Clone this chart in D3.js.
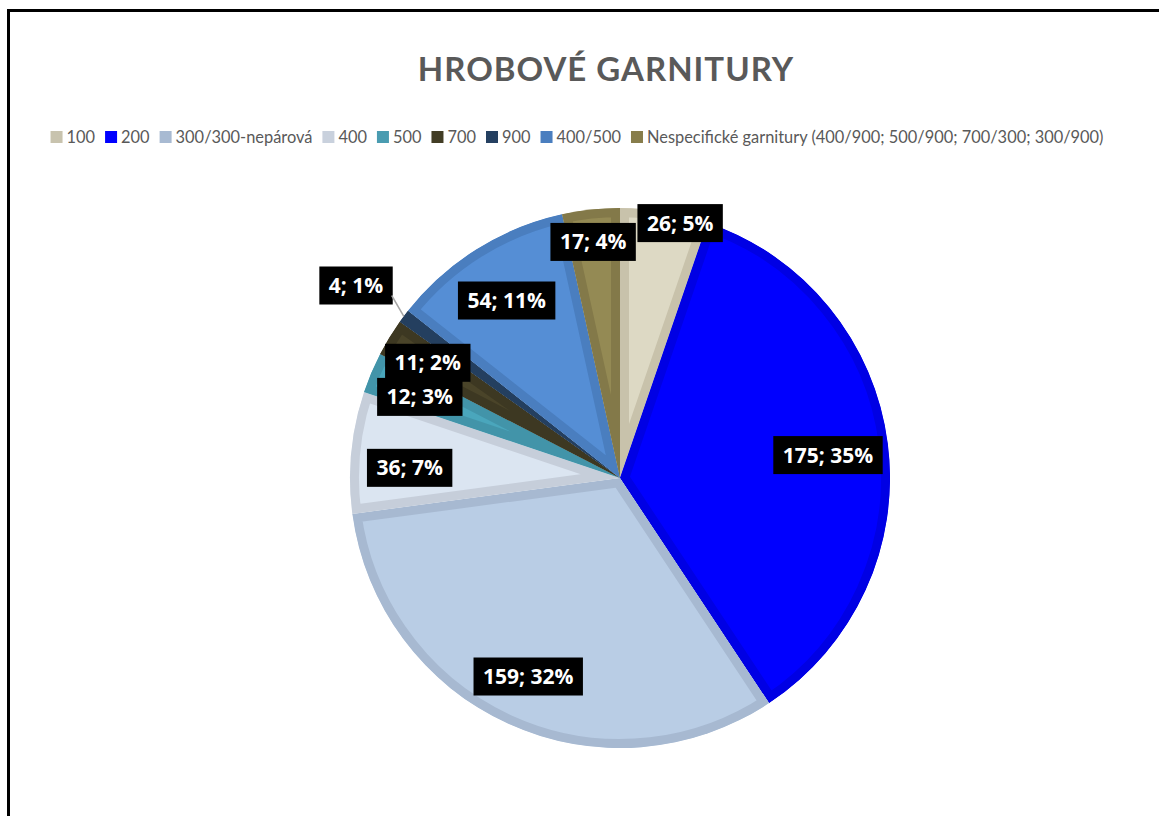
<!DOCTYPE html>
<html><head><meta charset="utf-8">
<script src="https://cdn.jsdelivr.net/npm/d3@7"></script>
<style>body{margin:0;background:#fff} svg{display:block}</style>
</head><body><svg id="c" width="1159" height="816"></svg>
<script>
// ---- data ----
const title = "HROBOVÉ GARNITURY";
const categories = ["100", "200", "300/300-nepárová", "400", "500", "700", "900", "400/500",
  "Nespecifické garnitury (400/900; 500/900; 700/300; 300/900)"];
const values = [26, 175, 159, 36, 12, 11, 4, 54, 17];

// ---- styles ----
const fillColors   = ["#DDD9C4", "#0000FF", "#B9CDE5", "#DBE5F1", "#4AA6BC", "#4A4429", "#2A4A6E", "#558ED5", "#948A54"];
const borderColors = ["#C8C2AB", "#0000E4", "#A7B9D1", "#C6CEDA", "#4294A9", "#3D3822", "#243F5F", "#4A7EBF", "#837949"];
const legendColors = ["#C8C3AE", "#0000FF", "#A8BAD2", "#C9D1DD", "#4A9CB1", "#423D25", "#254061", "#4A7EBF", "#877D4B"];
const labelRFactor = [0.97, 0.775, 0.81, 0.78, 0.80, 0.83, 1.21, 0.78, 0.88];
const labelAngOff  = [3.8, 1, 0.4, -2.7, -0.9, -0.4, -0.7, -0.5, -0.3];

const W = 1159, H = 816;
const svg = d3.select("#c");
const cx = 620, cy = 478, R = 270;
const FONT = "Lato, 'Open Sans', sans-serif";

// frame
svg.append("rect").attr("x", 8.5).attr("y", 10.5).attr("width", W + 20).attr("height", H + 20)
  .attr("fill", "none").attr("stroke", "#000").attr("stroke-width", 3);

// title
svg.append("text").attr("x", 606).attr("y", 81).attr("text-anchor", "middle")
  .attr("font-family", FONT).attr("font-weight", 700).attr("font-size", 33)
  .attr("letter-spacing", 1).attr("fill", "#595959").text(title);

// legend
const lg = svg.append("g").attr("font-family", FONT).attr("font-size", 16.4).attr("fill", "#595959");
const items = categories.map((c, i) => {
  const t = lg.append("text").attr("y", 143).text(c);
  return {t, w: t.node().getComputedTextLength(), i};
});
const sw = 12, gap1 = 4, gap2 = 10;
const total = d3.sum(items, d => sw + gap1 + d.w) + gap2 * (items.length - 1);
let x = 577 - total / 2;
items.forEach(d => {
  lg.append("rect").attr("x", x).attr("y", 131).attr("width", sw).attr("height", sw).attr("fill", legendColors[d.i]);
  d.t.attr("x", x + sw + gap1);
  x += sw + gap1 + d.w + gap2;
});

// percentages, largest remainder (as Excel displays)
const sum = d3.sum(values);
const raw = values.map(v => v / sum * 100);
const pct = raw.map(Math.floor);
let rem = 100 - d3.sum(pct);
raw.map((r, i) => ({i, f: r - Math.floor(r)})).sort((a, b) => b.f - a.f)
  .slice(0, rem).forEach(o => pct[o.i] += 1);

// pie
const pie = d3.pie().sort(null).value(d => d).startAngle(0).endAngle(2 * Math.PI);
const arcs = pie(values);
const arc = d3.arc().innerRadius(0).outerRadius(R);
const g = svg.append("g").attr("transform", `translate(${cx},${cy})`);
const defs = svg.append("defs");
arcs.forEach((a, i) => {
  defs.append("clipPath").attr("id", "cp" + i).append("path").attr("d", arc(a));
  g.append("path").attr("d", arc(a)).attr("fill", fillColors[i])
    .attr("stroke", borderColors[i]).attr("stroke-width", 18).attr("stroke-linejoin", "miter")
    .attr("clip-path", `url(#cp${i})`);
});

// labels
const lab = svg.append("g").attr("font-family", "'Open Sans', Lato, sans-serif").attr("font-weight", 700).attr("font-size", 21);
arcs.forEach((a, i) => {
  const mid = (a.startAngle + a.endAngle) / 2 + labelAngOff[i] * Math.PI / 180;
  const r = R * labelRFactor[i];
  const lx = cx + r * Math.sin(mid), ly = cy - r * Math.cos(mid);
  const t = lab.append("text").attr("x", lx).attr("y", ly + 7.5).attr("text-anchor", "middle")
    .attr("fill", "#fff").text(values[i] + "; " + pct[i] + "%");
  const tw = t.node().getComputedTextLength();
  const bw = tw + 19, bh = 38;
  lab.insert("rect", "text:last-child").attr("x", lx - bw / 2).attr("y", ly - bh / 2)
    .attr("width", bw).attr("height", bh).attr("fill", "#000");
  if (labelRFactor[i] > 1) {
    const m0 = (a.startAngle + a.endAngle) / 2;
    const ex = cx + R * Math.sin(m0), ey = cy - R * Math.cos(m0);
    svg.append("line").attr("x1", lx + bw / 2 - 1).attr("y1", ly + 10).attr("x2", ex).attr("y2", ey)
      .attr("stroke", "#A6A6A6").attr("stroke-width", 1.5);
  }
});
</script></body></html>
